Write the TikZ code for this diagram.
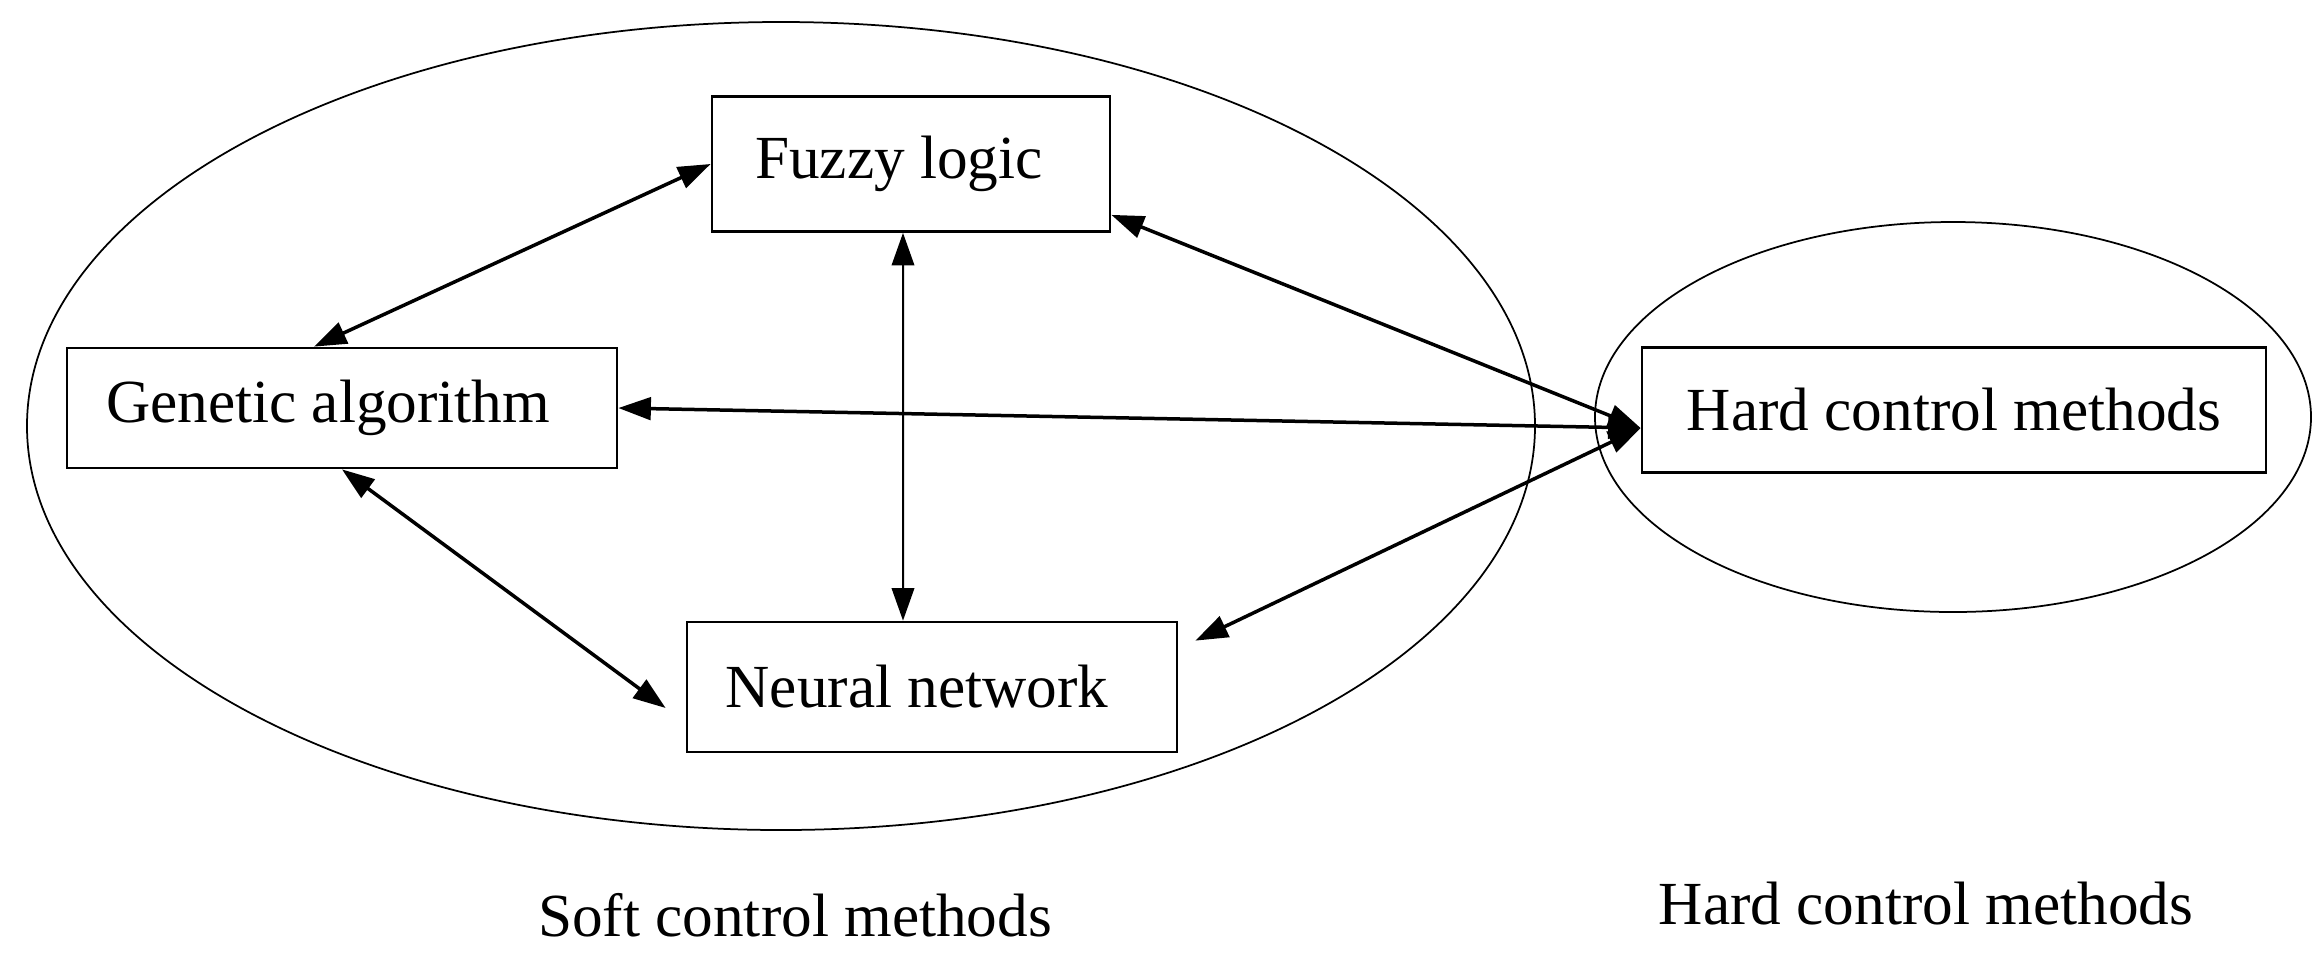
\documentclass[tikz,border=0pt]{standalone}
\usepackage{fontspec}
\setmainfont{Liberation Serif}
\usetikzlibrary{arrows.meta,shapes.geometric}
\begin{document}
\begin{tikzpicture}[x=0.4pt,y=-0.4pt,
  lbl/.style={font=\fontsize{24.5}{28}\selectfont},
  box/.style={draw, line width=1.1pt, rectangle, inner sep=0pt, lbl},
  ring/.style={draw, ellipse, line width=0.7pt, inner sep=0pt},
  link/.style={line width=1.4pt, {Triangle[length=13pt,width=9pt]}-{Triangle[length=13pt,width=9pt]}},
  thinlink/.style={line width=0.8pt, {Triangle[length=13pt,width=9pt]}-{Triangle[length=13pt,width=9pt]}}]
\useasboundingbox (0,0) rectangle (2321,956);
\node[ring, minimum width=603.2pt, minimum height=323.2pt] (soft) at (781,426) {};
\node[ring, minimum width=286.4pt, minimum height=156pt] (hard) at (1953,417) {};
\node[box, minimum width=159.2pt, minimum height=54pt] (F) at (911,164) {Fuzzy logic\kern9.6pt};
\node[box, minimum width=220pt, minimum height=48pt] (G) at (342,408) {Genetic algorithm\kern11.2pt};
\node[box, minimum width=196pt, minimum height=52pt] (N) at (932,687) {Neural network\kern12pt};
\node[box, minimum width=249.6pt, minimum height=50pt] (H) at (1954,410) {Hard control methods};
\node[lbl] (softlbl) at (795,915) {Soft control methods};
\node[lbl] (hardlbl) at (1926,904) {Hard control methods};
\coordinate (hin) at ([yshift=-7.2pt]H.west);
\draw[link] (F.west) -- ([xshift=-11.2pt]G.north);
\draw[thinlink] ([xshift=-3.2pt]F.south) -- ([xshift=-11.6pt]N.north);
\draw[link] ([yshift=7.2pt]F.south east) -- (hin);
\draw[link] (G.east) -- (hin);
\draw[link] (G.south) -- ([xshift=-8pt,yshift=-8.4pt]N.west);
\draw[link] ([xshift=6.8pt,yshift=-8pt]N.north east) -- (hin);
\end{tikzpicture}
\end{document}
